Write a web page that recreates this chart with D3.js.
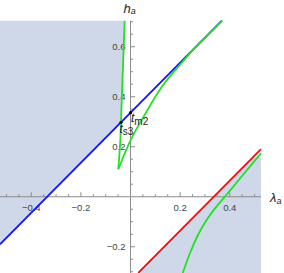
<!DOCTYPE html>
<html><head><meta charset="utf-8">
<script src="https://cdn.jsdelivr.net/npm/d3@7"></script>
<style>html,body{margin:0;padding:0;background:#fff}svg{display:block}</style>
</head><body><svg id="c" width="284" height="273"></svg>
<script>
// ---- data ----
const xDomain = [-0.526, 0.526];
const yDomain = [-0.305, 0.704];
const xTickMajor = [-0.4, -0.2, 0.2, 0.4];
const yTickMajor = [-0.2, 0.2, 0.4, 0.6];
const xTickLabels = ["\u22120.4", "\u22120.2", "0.2", "0.4"];
const yTickLabels = ["\u22120.2", "0.2", "0.4", "0.6"];
const minorStep = 0.05;
const lineOffset = 0.336;            // blue: h = λ + c ; red: h = λ − c
const redShadeTop = 0.158;
// upper green curve: left (near-vertical) branch, top to vertex
const greenLeftBranch = [
  [-0.0234, 0.704], [-0.0323, 0.467], [-0.0383, 0.2977], [-0.0403, 0.239], [-0.0492, 0.110]
];
// upper green curve: right branch, vertex to top
const greenRightBranch = [
  [-0.0492, 0.110], [-0.0262, 0.166], [0.002, 0.229], [0.0532, 0.321], [0.127, 0.441],
  [0.2077, 0.537], [0.248, 0.583], [0.31, 0.645], [0.37, 0.704]
];
// lower green curve
const greenLower = [
  [0.2105, -0.305], [0.240, -0.225], [0.268, -0.161], [0.315, -0.081], [0.393, 0.015],
  [0.458, 0.093], [0.526, 0.174]
];
const points = [
  {name: "m2", lam: 0.0, h: 0.336},
  {name: "s3", lam: -0.0383, h: 0.2977}
];

// ---- scales ----
const x = d3.scaleLinear().domain(xDomain).range([0, 261]);
const y = d3.scaleLinear().domain(yDomain).range([273, 20.7]);
const svg = d3.select("#c");
const shade = "#cfd8e9";
const blueLine = [[xDomain[0], xDomain[0] + lineOffset], [yDomain[1] - lineOffset, yDomain[1]]];
const redLine = [[yDomain[0] + lineOffset, yDomain[0]], [xDomain[1], xDomain[1] - lineOffset]];
const line = d3.line().x(d => x(d[0])).y(d => y(d[1]));
const monoX = d3.line().x(d => x(d[0])).y(d => y(d[1])).curve(d3.curveMonotoneX);
const monoY = d3.line().x(d => x(d[0])).y(d => y(d[1])).curve(d3.curveMonotoneY);

// upper-left shaded region
const ulPoly = [[xDomain[0], yDomain[1]], ...greenLeftBranch.slice(0, 3), [xDomain[0], xDomain[0] + lineOffset]];
svg.append("path").attr("d", line(ulPoly) + "Z").attr("fill", shade);
// lower-right shaded region
const lrPoly = [[yDomain[0] + lineOffset, yDomain[0]], [redShadeTop + lineOffset, redShadeTop],
  [xDomain[1], redShadeTop], [xDomain[1], yDomain[0]]];
svg.append("path").attr("d", line(lrPoly) + "Z").attr("fill", shade);

// axes
const axisColor = "#8c8c8c";
const g = svg.append("g");
g.append("line").attr("x1", x(xDomain[0])).attr("x2", x(xDomain[1])).attr("y1", y(0)).attr("y2", y(0))
  .attr("stroke", axisColor).attr("stroke-width", 1);
g.append("line").attr("x1", x(0)).attr("x2", x(0)).attr("y1", y(yDomain[1])).attr("y2", 273)
  .attr("stroke", axisColor).attr("stroke-width", 1);
const xMinor = d3.range(-0.5, 0.5001, minorStep).filter(v => Math.abs(v) > 1e-6);
const yMinor = d3.range(-0.3, 0.7001, minorStep).filter(v => Math.abs(v) > 1e-6);
xMinor.forEach(v => {
  const major = xTickMajor.some(m => Math.abs(m - v) < 1e-6);
  g.append("line").attr("x1", x(v)).attr("x2", x(v)).attr("y1", y(0)).attr("y2", y(0) - (major ? 4.5 : 2.5))
    .attr("stroke", axisColor).attr("stroke-width", 1);
});
yMinor.forEach(v => {
  const major = yTickMajor.some(m => Math.abs(m - v) < 1e-6);
  g.append("line").attr("y1", y(v)).attr("y2", y(v)).attr("x1", x(0)).attr("x2", x(0) + (major ? 4.5 : 2.5))
    .attr("stroke", axisColor).attr("stroke-width", 1);
});
const font = "'Liberation Sans', Arial, sans-serif";
xTickMajor.forEach((v, i) => {
  g.append("text").attr("x", x(v)).attr("y", y(0) + 14).attr("text-anchor", "middle")
    .attr("font-family", font).attr("font-size", 9.5).attr("fill", "#444").text(xTickLabels[i]);
});
yTickMajor.forEach((v, i) => {
  g.append("text").attr("x", x(0) - 5).attr("y", y(v) + 3.5).attr("text-anchor", "end")
    .attr("font-family", font).attr("font-size", 9.5).attr("fill", "#444").text(yTickLabels[i]);
});

// lines
svg.append("path").attr("d", line(blueLine)).attr("stroke", "#1414ff").attr("stroke-width", 1.8).attr("fill", "none");
svg.append("path").attr("d", line(redLine)).attr("stroke", "#ee1111").attr("stroke-width", 1.8).attr("fill", "none");
const green = "#22e022";
svg.append("path").attr("d", monoY(greenLeftBranch)).attr("stroke", green).attr("stroke-width", 1.8).attr("fill", "none");
svg.append("path").attr("d", monoX(greenRightBranch)).attr("stroke", green).attr("stroke-width", 1.8).attr("fill", "none");
svg.append("path").attr("d", monoX(greenLower)).attr("stroke", green).attr("stroke-width", 1.8).attr("fill", "none");

// points and labels
points.forEach(p => {
  svg.append("circle").attr("cx", x(p.lam)).attr("cy", y(p.h)).attr("r", 1.6).attr("fill", "#000");
});
const lab = (px, py, sub) => {
  const t = svg.append("text").attr("x", px).attr("y", py).attr("font-family", font).attr("fill", "#222");
  t.append("tspan").attr("font-size", 12).attr("font-style", "italic").text("t");
  t.append("tspan").attr("font-size", 10).attr("dy", 2.5).text(sub);
};
lab(x(points[0].lam) + 0.5, y(points[0].h) + 9.5, points[0].name);
lab(x(points[1].lam) - 1.5, y(points[1].h) + 10.5, points[1].name);

// axis labels
const axl = (px, py, main) => {
  const t = svg.append("text").attr("x", px).attr("y", py).attr("font-family", font).attr("fill", "#222");
  t.append("tspan").attr("font-size", 13).attr("font-style", "italic").text(main);
  t.append("tspan").attr("font-size", 9).attr("font-style", "italic").attr("dy", 1.5).text("a");
};
axl(123.5, 12.5, "h");
axl(270, 202, "\u03bb");
</script></body></html>
